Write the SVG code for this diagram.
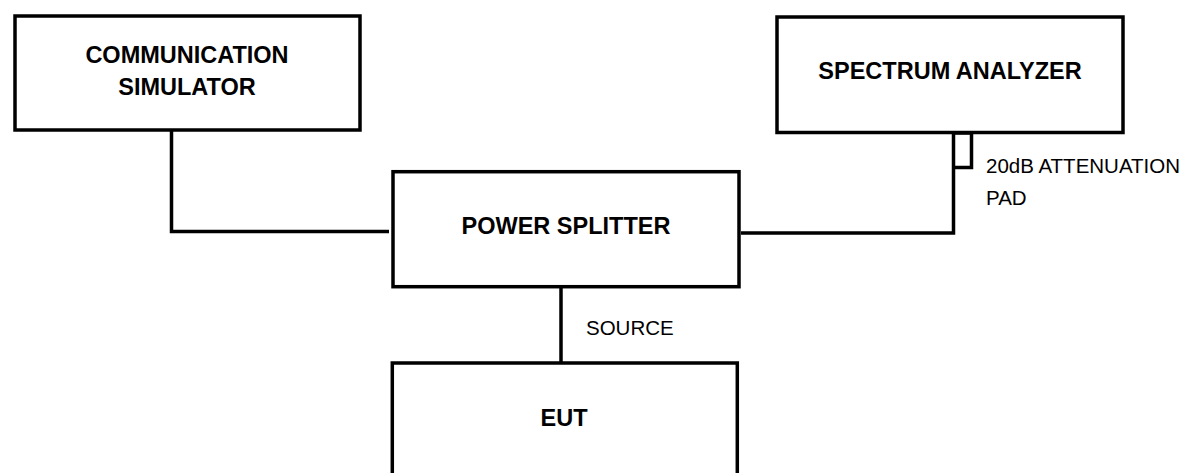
<svg xmlns="http://www.w3.org/2000/svg" width="1190" height="473" viewBox="0 0 1190 473">
<style>
.box{fill:#fff;stroke:#000;stroke-width:3.5}
.wire{fill:none;stroke:#000;stroke-width:3.5}
.b{font-family:"Liberation Sans",Arial,sans-serif;font-weight:bold;font-size:23.5px;fill:#000;text-anchor:middle}
.r{font-family:"Liberation Sans",Arial,sans-serif;font-size:20.5px;fill:#000}
</style>
<rect width="1190" height="473" fill="#fff"/>
<g id="connectors">
<polyline class="wire" points="171.5,131 171.5,231.5 389,231.5"/>
<polyline class="wire" points="741,233 953.5,233 953.5,133"/>
<polyline class="wire" points="953.5,133 971.5,133 971.5,167.5 953.5,167.5"/>
<line class="wire" x1="561" y1="288" x2="561" y2="362"/>
</g>
<g id="communication-simulator">
<rect class="box" x="15" y="16" width="345" height="114"/>
<text class="b" x="187" y="63">COMMUNICATION</text>
<text class="b" x="187" y="95">SIMULATOR</text>
</g>
<g id="spectrum-analyzer">
<rect class="box" x="777" y="17" width="346" height="115.5"/>
<text class="b" x="950" y="79">SPECTRUM ANALYZER</text>
</g>
<g id="attenuation-pad-label">
<text class="r" x="986" y="172.5">20dB ATTENUATION</text>
<text class="r" x="986" y="205">PAD</text>
</g>
<g id="power-splitter">
<rect class="box" x="393" y="171.7" width="346" height="115"/>
<text class="b" x="566" y="234">POWER SPLITTER</text>
</g>
<g id="source-label">
<text class="r" x="586" y="335">SOURCE</text>
</g>
<g id="eut">
<rect class="box" x="392.3" y="363" width="345" height="130"/>
<text class="b" x="564" y="426">EUT</text>
</g>
</svg>
